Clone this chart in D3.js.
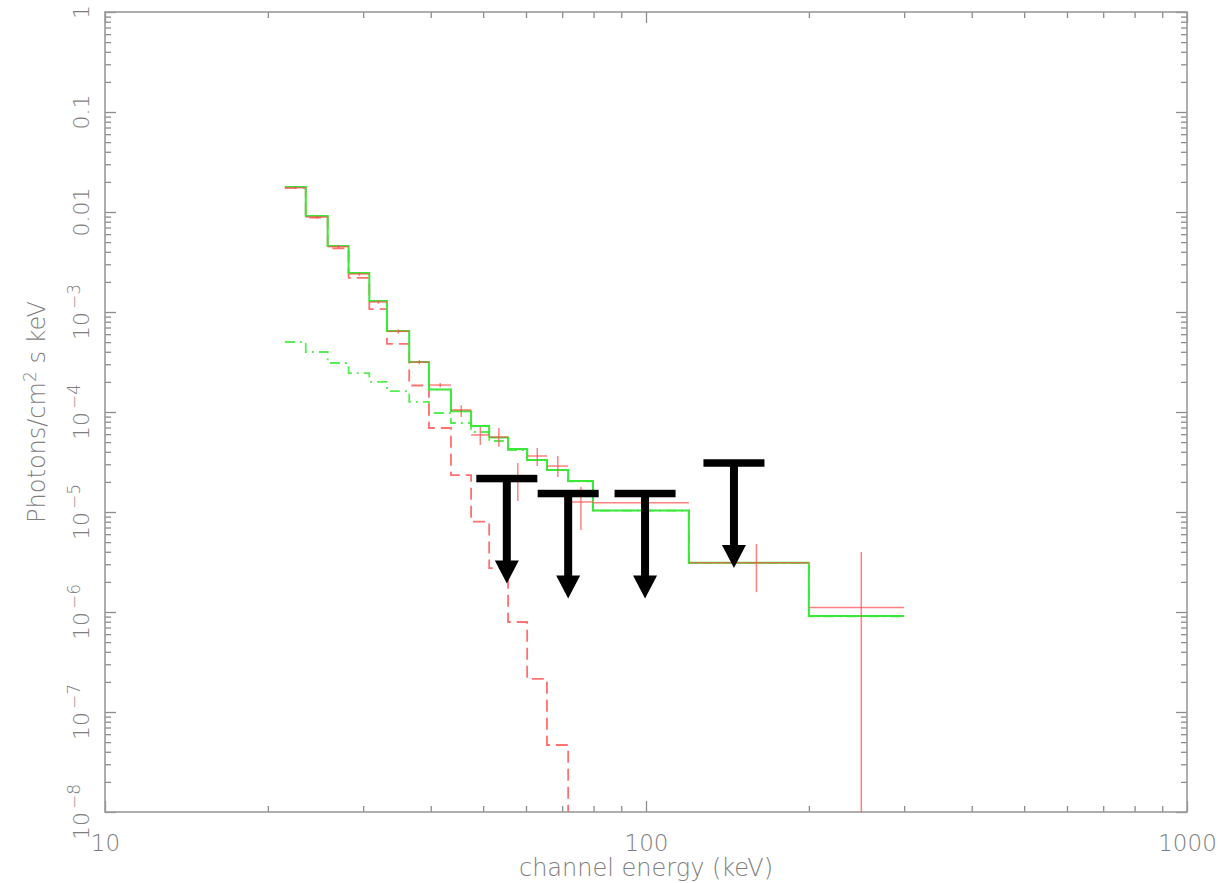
<!DOCTYPE html>
<html>
<head>
<meta charset="utf-8">
<script src="https://cdn.jsdelivr.net/npm/d3@7"></script>
<style>
  body { margin: 0; background: #fff; }
  svg { display: block; }
  text { font-family: "DejaVu Sans", "Liberation Sans", sans-serif; font-weight: 200; fill: #7e7e7e; }
</style>
</head>
<body>
<svg id="chart" width="1218" height="883"></svg>
<script>
// Energy bin edges (keV) of the spectrum
const binEdges = [21.5, 23.5, 25.8, 28.2, 30.8, 33.2, 36.5, 39.7, 43.6, 47.5, 51.3, 55.6, 60.3, 65.6, 71.8, 79.8, 120, 200, 300];

// Total model (solid green), photons/cm^2 s keV
const totalModel = [0.0178, 0.00912, 0.00457, 0.00246, 0.00129, 6.46e-4, 3.16e-4, 1.68e-4, 1.02e-4, 7.24e-5, 5.56e-5, 4.27e-5, 3.31e-5, 2.63e-5, 2.04e-5, 1.035e-5, 3.11e-6, 9.1e-7];

// Soft, steep component (dashed red); the last bin falls below the axis
const softComponent = [0.0174, 0.00881, 0.00432, 0.00219, 0.00107, 4.79e-4, 1.84e-4, 6.92e-5, 2.34e-5, 8.0e-6, 2.75e-6, 7.94e-7, 2.14e-7, 4.68e-8, 5e-9];

// Hard, flat component (dash-dot green)
const hardComponent = [5.01e-4, 3.98e-4, 3.09e-4, 2.45e-4, 2.0e-4, 1.62e-4, 1.26e-4, 9.77e-5, 7.76e-5, 6.31e-5, 5.13e-5, 4.17e-5, 3.3e-5, 2.62e-5, 2.03e-5, 1.03e-5, 3.1e-6, 9.05e-7];

// Unfolded data points (red crosses) with lower / upper error bounds
const dataFlux = [0.0175, 0.0089, 0.0045, 0.0024, 0.00126, 6.4e-4, 3.15e-4, 1.86e-4, 1.05e-4, 5.89e-5, 5.62e-5, 2.19e-5, 3.63e-5, 2.88e-5, 1.26e-5, 1.24e-5, 3.11e-6, 1.11e-6];
const dataHigh = [0.0180, 0.0092, 0.00465, 0.00249, 0.00131, 6.7e-4, 3.3e-4, 1.95e-4, 1.17e-4, 7.08e-5, 6.9e-5, 3.09e-5, 4.37e-5, 3.63e-5, 1.78e-5, 1.45e-5, 4.79e-6, 3.98e-6];
const dataLow = [0.0170, 0.0086, 0.00435, 0.00231, 0.00121, 6.1e-4, 3.0e-4, 1.77e-4, 8.9e-5, 4.68e-5, 4.5e-5, 1.29e-5, 2.88e-5, 2.24e-5, 6.6e-6, 1.05e-5, 1.58e-6, 1e-10];

// Upper limits (black arrows): energy (keV) and limit value
const limitEnergy = [55.3, 71.8, 99.6, 145.4];
const limitValue = [2.16e-5, 1.53e-5, 1.53e-5, 3.09e-5];

// Axis ticks
const xMajorTicks = [10, 100, 1000];
const xTickLabels = ["10", "100", "1000"];
const yMajorTicks = [1, 0.1, 0.01, 1e-3, 1e-4, 1e-5, 1e-6, 1e-7, 1e-8];
const yTickBase = ["1", "0.1", "0.01", "10", "10", "10", "10", "10", "10"];
const yTickExp = ["", "", "", "\u22123", "\u22124", "\u22125", "\u22126", "\u22127", "\u22128"];
const xTitle = "channel energy (keV)";

const plot = { left: 105, right: 1187, top: 12, bottom: 812 };
const svg = d3.select("#chart");

const x = d3.scaleLog().domain([10, 1000]).range([plot.left, plot.right]);
const y = d3.scaleLog().domain([1e-8, 1]).range([plot.bottom, plot.top]);

svg.append("defs").append("clipPath").attr("id", "plotArea")
  .append("rect")
  .attr("x", plot.left).attr("y", plot.top)
  .attr("width", plot.right - plot.left).attr("height", plot.bottom - plot.top);

// Minor tick positions (2..9 in each decade)
const xMinorTicks = [];
for (let d = 10; d < 1000; d *= 10) for (let k = 2; k <= 9; k++) xMinorTicks.push(k * d);
const yMinorTicks = [];
for (let e = -8; e < 0; e++) for (let k = 2; k <= 9; k++) yMinorTicks.push(k * Math.pow(10, e));

const tickColor = "#8c8c8c";
function drawTicks(axis, tx, ty) {
  const g = svg.append("g").attr("transform", `translate(${tx},${ty})`).call(axis);
  g.select(".domain").remove();
  g.selectAll(".tick line").attr("stroke", tickColor).attr("stroke-width", 1.3);
  g.selectAll(".tick text").remove();
  return g;
}
[[xMajorTicks, 11], [xMinorTicks, 6]].forEach(([vals, len]) => {
  drawTicks(d3.axisBottom(x).tickValues(vals).tickSize(-len), 0, plot.bottom);
  drawTicks(d3.axisTop(x).tickValues(vals).tickSize(-len), 0, plot.top);
});
[[yMajorTicks, 11], [yMinorTicks, 6]].forEach(([vals, len]) => {
  drawTicks(d3.axisLeft(y).tickValues(vals).tickSize(-len), plot.left, 0);
  drawTicks(d3.axisRight(y).tickValues(vals).tickSize(-len), plot.right, 0);
});

// Frame
svg.append("rect")
  .attr("x", plot.left).attr("y", plot.top)
  .attr("width", plot.right - plot.left).attr("height", plot.bottom - plot.top)
  .attr("fill", "none").attr("stroke", "#9a9a9a").attr("stroke-width", 1.6);

// X tick labels
const xLab = svg.append("g").attr("transform", `translate(0,${plot.bottom})`)
  .call(d3.axisBottom(x).tickValues(xMajorTicks).tickSize(0).tickPadding(23)
    .tickFormat((d, i) => xTickLabels[i]));
xLab.select(".domain").remove();
xLab.selectAll("text").attr("font-size", 23).attr("font-family", null).attr("fill", null);

// Y tick labels (rotated, with exponents)
yMajorTicks.forEach((v, i) => {
  const t = svg.append("text")
    .attr("transform", `translate(89,${y(v)}) rotate(-90)`)
    .attr("text-anchor", "middle")
    .attr("font-size", 22);
  t.append("tspan").text(yTickBase[i]);
  if (yTickExp[i]) {
    t.append("tspan").attr("dy", -9).attr("dx", 3).attr("font-size", 17).text(yTickExp[i]);
  }
});

// Axis titles
svg.append("text")
  .attr("x", (plot.left + plot.right) / 2).attr("y", 876)
  .attr("text-anchor", "middle").attr("font-size", 24)
  .text(xTitle);

const yTitle = svg.append("text")
  .attr("transform", `translate(45,${(plot.top + plot.bottom) / 2}) rotate(-90)`)
  .attr("text-anchor", "middle").attr("font-size", 24);
yTitle.append("tspan").text("Photons/cm");
yTitle.append("tspan").attr("dy", -9).attr("font-size", 17).text("2");
yTitle.append("tspan").attr("dy", 9).text(" s keV");

// Histogram-style step lines
const stepLine = d3.line().x(d => x(d[0])).y(d => y(d[1])).curve(d3.curveStepAfter);
function stepPoints(vals) {
  const pts = vals.map((v, i) => [binEdges[i], v]);
  pts.push([binEdges[vals.length], vals[vals.length - 1]]);
  return pts;
}

const marks = svg.append("g").attr("clip-path", "url(#plotArea)");

marks.append("path")
  .attr("d", stepLine(stepPoints(hardComponent)))
  .attr("fill", "none").attr("stroke", "#55ee55").attr("stroke-width", 1.8)
  .attr("stroke-dasharray", "10,5,2,5");

marks.append("path")
  .attr("d", stepLine(stepPoints(softComponent)))
  .attr("fill", "none").attr("stroke", "#ff7070").attr("stroke-width", 1.8)
  .attr("stroke-dasharray", "12,6");

marks.append("path")
  .attr("d", stepLine(stepPoints(totalModel)))
  .attr("fill", "none").attr("stroke", "#3ae83a").attr("stroke-width", 2);

// Data crosses: horizontal bar over the bin, vertical error bar at the bin centre
const pts = dataFlux.map((v, i) => ({
  e0: binEdges[i], e1: binEdges[i + 1], ec: (binEdges[i] + binEdges[i + 1]) / 2,
  v, lo: dataLow[i], hi: dataHigh[i]
}));
const cross = marks.append("g").attr("stroke", "#ff4d4d").attr("stroke-opacity", 0.7).attr("stroke-width", 1.5);
cross.selectAll("line.h").data(pts).join("line").attr("class", "h")
  .attr("x1", d => x(d.e0)).attr("x2", d => x(d.e1))
  .attr("y1", d => y(d.v)).attr("y2", d => y(d.v));
cross.selectAll("line.v").data(pts).join("line").attr("class", "v")
  .attr("x1", d => x(d.ec)).attr("x2", d => x(d.ec))
  .attr("y1", d => y(d.hi)).attr("y2", d => y(d.lo));

// Upper-limit arrows
const arrowDrop = 105, headLen = 23, headHalf = 12, barHalf = 30.5, barThick = 7.5, shaftHalf = 4;
const limits = limitEnergy.map((e, i) => ({ cx: x(e), cy: y(limitValue[i]) }));
const arr = svg.append("g").attr("fill", "#000");
arr.selectAll("rect.bar").data(limits).join("rect").attr("class", "bar")
  .attr("x", d => d.cx - barHalf).attr("y", d => d.cy - barThick / 2)
  .attr("width", barHalf * 2).attr("height", barThick);
arr.selectAll("rect.shaft").data(limits).join("rect").attr("class", "shaft")
  .attr("x", d => d.cx - shaftHalf).attr("y", d => d.cy)
  .attr("width", shaftHalf * 2).attr("height", arrowDrop - headLen + 1);
arr.selectAll("path.head").data(limits).join("path").attr("class", "head")
  .attr("d", d => `M${d.cx - headHalf},${d.cy + arrowDrop - headLen}L${d.cx + headHalf},${d.cy + arrowDrop - headLen}L${d.cx},${d.cy + arrowDrop}Z`);
</script>
</body>
</html>
